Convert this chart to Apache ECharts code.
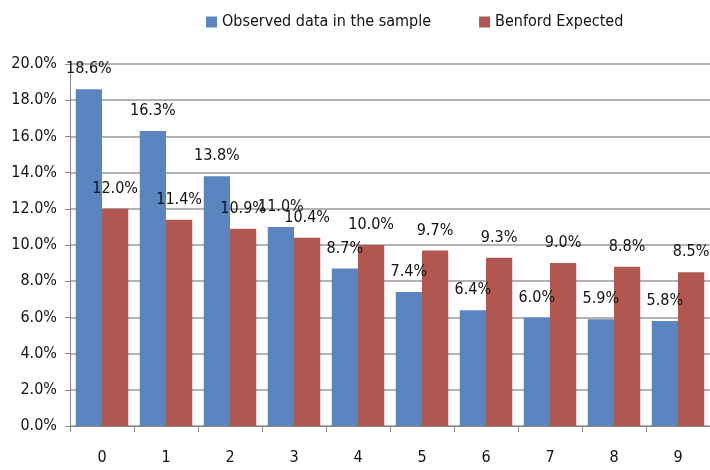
<!DOCTYPE html>
<html>
<head>
<meta charset="utf-8">
<script src="https://cdn.jsdelivr.net/npm/echarts@6/dist/echarts.min.js"></script>
<style>
  html, body { margin: 0; padding: 0; background: #fff; }
  #chart { width: 710px; height: 470px; }
</style>
</head>
<body>
<div id="chart"></div>
<script>
// first digit distribution
const digits = ['0', '1', '2', '3', '4', '5', '6', '7', '8', '9'];
const observed = [18.6, 16.3, 13.8, 11.0, 8.7, 7.4, 6.4, 6.0, 5.9, 5.8];
const benford = [12.0, 11.4, 10.9, 10.4, 10.0, 9.7, 9.3, 9.0, 8.8, 8.5];
const yTicks = [0, 2, 4, 6, 8, 10, 12, 14, 16, 18, 20];

const font = '"DejaVu Sans Condensed", "Liberation Sans Narrow", sans-serif';
const pct = (v) => v.toFixed(1) + '%';

const chart = echarts.init(document.getElementById('chart'));

const label = {
  show: true,
  position: 'top',
  distance: 12,
  color: '#111',
  fontFamily: font,
  fontSize: 16,
  formatter: (p) => pct(p.value),
};

chart.setOption({
  animation: false,
  textStyle: { fontFamily: font },
  legend: {
    top: 9,
    left: 201,
    icon: 'rect',
    itemWidth: 11,
    itemHeight: 11,
    itemGap: 48,
    textStyle: { fontSize: 16, color: '#111', fontFamily: font },
    data: ['Observed data in the sample', 'Benford Expected'],
  },
  grid: {
    left: 70,
    right: 0,
    top: 64,
    bottom: 44,
  },
  xAxis: {
    type: 'category',
    data: digits,
    axisLine: { lineStyle: { color: '#888', width: 1 } },
    axisTick: { show: true, length: 6, lineStyle: { color: '#888' } },
    axisLabel: { color: '#111', fontSize: 16, margin: 24, fontFamily: font },
  },
  yAxis: {
    type: 'value',
    min: yTicks[0],
    max: yTicks[yTicks.length - 1],
    interval: 2,
    axisLine: { show: true, lineStyle: { color: '#888' } },
    axisTick: { show: true, length: 5, lineStyle: { color: '#888' } },
    axisLabel: { color: '#111', fontSize: 16, margin: 13, fontFamily: font, formatter: pct },
    splitLine: { lineStyle: { color: '#999', width: 1.5 } },
  },
  series: [
    {
      name: 'Observed data in the sample',
      type: 'bar',
      data: observed,
      barGap: '0%',
      barCategoryGap: '18%',
      itemStyle: { color: '#5A85BE' },
      label,
    },
    {
      name: 'Benford Expected',
      type: 'bar',
      data: benford,
      itemStyle: { color: '#AF5750' },
      label,
    },
  ],
});
</script>
</body>
</html>
